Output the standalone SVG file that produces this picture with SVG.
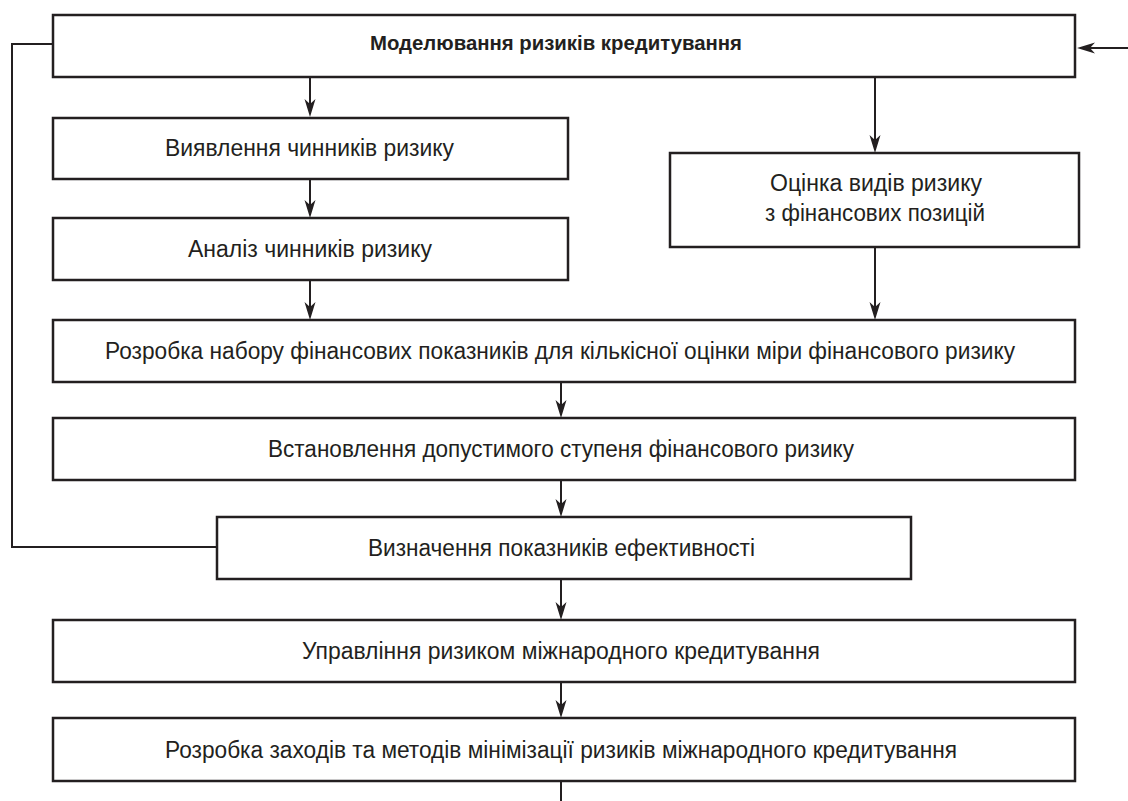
<svg xmlns="http://www.w3.org/2000/svg" width="1128" height="801" viewBox="0 0 1128 801">
<style>
.box{fill:#fff;stroke:#231f20;stroke-width:2.5}
.t{font-family:"Liberation Sans",Arial,sans-serif;font-size:23.5px;fill:#231f20;text-anchor:middle}
.b{font-weight:bold;font-size:20px}
.ln{fill:none;stroke:#231f20;stroke-width:2}
.ah{fill:#231f20;stroke:none}
</style>
<defs>
<path id="ahd" class="ah" d="M0,0 L-5.5,-18 L0,-13 L5.5,-18 Z"/>
</defs>
<rect width="1128" height="801" fill="#fff"/>
<g id="connectors">
<line class="ln" x1="310" y1="77" x2="310" y2="112"/>
<use href="#ahd" x="310" y="117"/>
<line class="ln" x1="310" y1="179" x2="310" y2="213"/>
<use href="#ahd" x="310" y="218"/>
<line class="ln" x1="310" y1="280" x2="310" y2="315"/>
<use href="#ahd" x="310" y="320"/>
<line class="ln" x1="875" y1="77" x2="875" y2="148"/>
<use href="#ahd" x="875" y="153"/>
<line class="ln" x1="875" y1="247" x2="875" y2="315"/>
<use href="#ahd" x="875" y="320"/>
<line class="ln" x1="561" y1="382" x2="561" y2="413"/>
<use href="#ahd" x="561" y="418"/>
<line class="ln" x1="561" y1="480" x2="561" y2="512"/>
<use href="#ahd" x="561" y="517"/>
<line class="ln" x1="561" y1="579" x2="561" y2="615"/>
<use href="#ahd" x="561" y="620"/>
<line class="ln" x1="561" y1="682" x2="561" y2="713"/>
<use href="#ahd" x="561" y="718"/>
<line class="ln" x1="561" y1="781" x2="561" y2="801"/>
<polyline class="ln" points="217,547 12,547 12,44 53,44"/>
<line class="ln" x1="1128" y1="48" x2="1082" y2="48"/>
<path class="ah" d="M1077,48 L1095,42.5 L1090,48 L1095,53.5 Z"/>
</g>
<g id="n1"><rect class="box" x="53" y="15" width="1022" height="62"/><text class="t b" x="556" y="49.5" textLength="372" lengthAdjust="spacingAndGlyphs">Моделювання ризиків кредитування</text></g>
<g id="n2"><rect class="box" x="53" y="118" width="515" height="61"/><text class="t" x="309.5" y="156" textLength="289" lengthAdjust="spacingAndGlyphs">Виявлення чинників ризику</text></g>
<g id="n3"><rect class="box" x="53" y="218" width="515" height="62"/><text class="t" x="310" y="257" textLength="244" lengthAdjust="spacingAndGlyphs">Аналіз чинників ризику</text></g>
<g id="n4"><rect class="box" x="670" y="153" width="409" height="94"/><text class="t" x="876" y="191" textLength="212" lengthAdjust="spacingAndGlyphs">Оцінка видів ризику</text><text class="t" x="875" y="221" textLength="220" lengthAdjust="spacingAndGlyphs">з фінансових позицій</text></g>
<g id="n5"><rect class="box" x="53" y="320" width="1022" height="62"/><text class="t" x="560" y="359" textLength="910" lengthAdjust="spacingAndGlyphs">Розробка набору фінансових показників для кількісної оцінки міри фінансового ризику</text></g>
<g id="n6"><rect class="box" x="53" y="418" width="1022" height="62"/><text class="t" x="561" y="457" textLength="586" lengthAdjust="spacingAndGlyphs">Встановлення допустимого ступеня фінансового ризику</text></g>
<g id="n7"><rect class="box" x="217" y="517" width="694" height="62"/><text class="t" x="561.5" y="556" textLength="387" lengthAdjust="spacingAndGlyphs">Визначення показників ефективності</text></g>
<g id="n8"><rect class="box" x="53" y="620" width="1022" height="62"/><text class="t" x="561" y="659" textLength="518" lengthAdjust="spacingAndGlyphs">Управління ризиком міжнародного кредитування</text></g>
<g id="n9"><rect class="box" x="53" y="718" width="1022" height="63"/><text class="t" x="561" y="758" textLength="792" lengthAdjust="spacingAndGlyphs">Розробка заходів та методів мінімізації ризиків міжнародного кредитування</text></g>
</svg>
